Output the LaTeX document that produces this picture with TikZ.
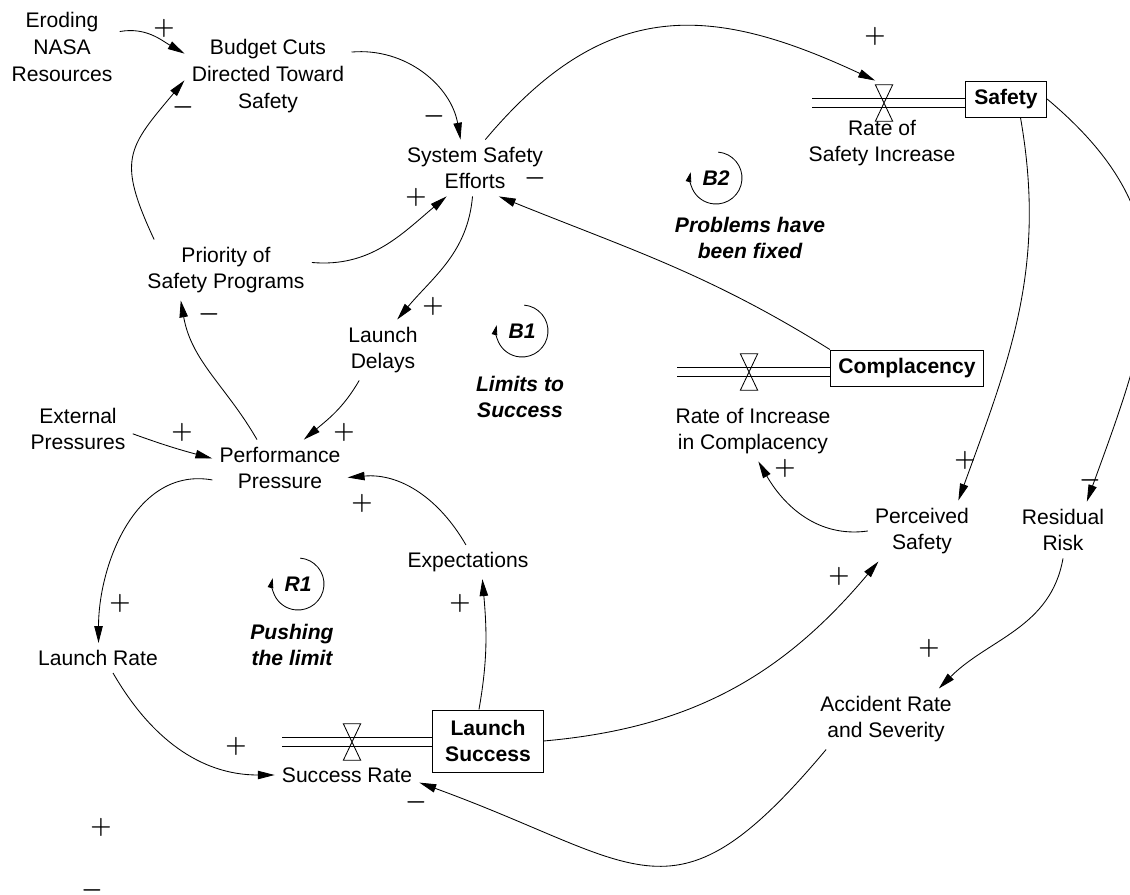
\documentclass[tikz,border=0pt]{standalone}
\usepackage{fontspec}
\setmainfont{Liberation Sans}
\usetikzlibrary{arrows.meta}

\begin{document}
\begin{tikzpicture}[x=0.025cm, y=0.025cm,
  var/.style={align=center, font=\fontsize{15}{19}\selectfont, inner sep=5pt},
  stock/.style={draw, line width=0.7pt, align=center, font=\fontsize{15}{18}\selectfont\bfseries, inner sep=2pt},
  valve/.style={minimum width=0.42cm, minimum height=0.9cm, inner sep=0pt},
  pipe/.style={double, double distance=5.6pt, line width=0.6pt},
  link/.style={line width=0.6pt, -{Triangle[length=12pt,width=6pt]}},
  sgn/.style={font=\fontsize{19}{19}\selectfont\boldmath, inner sep=0pt},
  looplbl/.style={align=center, font=\fontsize{15}{19}\selectfont\bfseries\itshape},
  looparc/.style={line width=0.6pt, -{Triangle[length=7pt,width=4pt]}}
]
\useasboundingbox (0,0) rectangle (1130,-894);

% variables
\node[var] (erode) at (62,-47) {Eroding\\NASA\\Resources};
\node[var] (budget) at (268,-76) {Budget Cuts\\Directed Toward\\Safety};
\node[var] (sse) at (475,-168) {System Safety\\Efforts};
\node[var] (priority) at (226,-270) {Priority of\\Safety Programs};
\node[var] (delays) at (383,-350) {Launch\\Delays};
\node[var] (external) at (78,-429) {External\\Pressures};
\node[var] (perf) at (280,-468) {Performance\\Pressure};
\node[var] (expect) at (468,-562) {Expectations};
\node[var] (lrate) at (98,-658) {Launch Rate};
\node[var] (srate) at (347,-775) {Success Rate};
\node[var] (rsi) at (882,-143) {Rate of\\Safety Increase};
\node[var] (ric) at (753,-431) {Rate of Increase\\in Complacency};
\node[var] (perceived) at (922,-531) {Perceived\\Safety};
\node[var] (residual) at (1063,-530) {Residual\\Risk};
\node[var] (accident) at (886,-719) {Accident Rate\\and Severity};

% stocks and flows
\node[stock, minimum width=2.03cm, minimum height=0.9cm] (safety) at (1006,-99) {Safety};
\node[stock, minimum width=3.83cm, minimum height=0.9cm] (compl) at (907,-368) {Complacency};
\node[stock, minimum width=2.75cm, minimum height=1.55cm] (lsuccess) at (488,-741) {Launch\\Success};

\coordinate (psafety) at (812,-103);
\coordinate (pcompl) at (677,-372);
\coordinate (plaunch) at (282,-742);
\node[valve] (vsafety) at (884,-103) {};
\node[valve] (vcompl) at (749,-372) {};
\node[valve] (vlaunch) at (352,-742) {};
\draw[pipe] (psafety) -- (psafety -| safety.west);
\draw[pipe] (pcompl) -- (pcompl -| compl.west);
\draw[pipe] (plaunch) -- (plaunch -| lsuccess.west);
\foreach \v in {vsafety,vcompl,vlaunch}
  \draw[line width=0.6pt] (\v.north west) -- (\v.south east) -- (\v.south west) -- (\v.north east) -- cycle;

% causal links
\draw[link] (erode.15) to[out=10,in=150] (budget.165);
\draw[link] (priority.157) to[out=115,in=230,looseness=1.4] (budget.183);
\draw[link] (budget.16) to[out=5,in=100] (sse.117);
\draw[link] (priority.5) to[out=-5,in=220] (sse.225);
\draw[link, shorten >=7pt] (sse.70) to[out=50,in=155,looseness=1.2] (vsafety.north);
\draw[link] (compl.north west) to[out=148,in=-22] (sse.-50);
\draw[link] (sse.265) to[out=-95,in=50] (delays.65);
\draw[link] (delays.232) to[out=240,in=40] (perf.50);
\draw[link] (perf.129) to[out=120,in=-80] (priority.214);
\draw[link] (external.-5) to[out=-20,in=165] (perf.172);
\draw[link] (expect.97) to[out=120,in=5] (perf.-8);
\draw[link] (perf.190) to[out=170,in=90] (lrate.88);
\draw[link] (lrate.-45) to[out=-60,in=180] (srate.west);
\draw[link] (lsuccess.106) to[out=80,in=-85] (expect.-50);
\draw[link] (lsuccess.east) to[out=5,in=230] (perceived.215);
\draw[link] (perceived.west) to[out=188,in=-60] (ric.-80);
\draw[link] (safety.-52) to[out=-80,in=70] (perceived.40);
\draw[link] (safety.east) to[out=-40,in=70,looseness=1.2] (residual.50);
\draw[link] (residual.south) to[out=-100,in=45] (accident.30);
\draw[link] (accident.207) to[out=-130,in=-20,looseness=1.5] (srate.-6);

% polarities
\foreach \x/\y [count=\i] in {164/28, 875/36, 416/197, 433/306, 182/432, 344/432, 362/503, 120/603, 460/603, 236/746, 839/576, 785/468, 965/460, 929/648, 101/827}
  \node[sgn] (plus\i) at (\x,-\y) {$+$};
\foreach \x/\y [count=\i] in {183/107, 434/116, 535/178, 209/314, 416/802, 1090/480, 92/890}
  \node[sgn] (minus\i) at (\x,-\y) {$-$};

% loops
\node[looplbl] (b1) at (522,-331) {B1};
\node[looplbl] (b2) at (716,-178) {B2};
\node[looplbl] (r1) at (298,-584) {R1};
\foreach \l in {b1,b2,r1}
  \draw[looparc] (\l.center) ++(85:26) arc[start angle=85, end angle=-193, radius=26];
\node[looplbl] (lb1) at (520,-397) {Limits to\\Success};
\node[looplbl] (lb2) at (750,-238) {Problems have\\been fixed};
\node[looplbl] (lr1) at (292,-645) {Pushing\\the limit};
\end{tikzpicture}
\end{document}
